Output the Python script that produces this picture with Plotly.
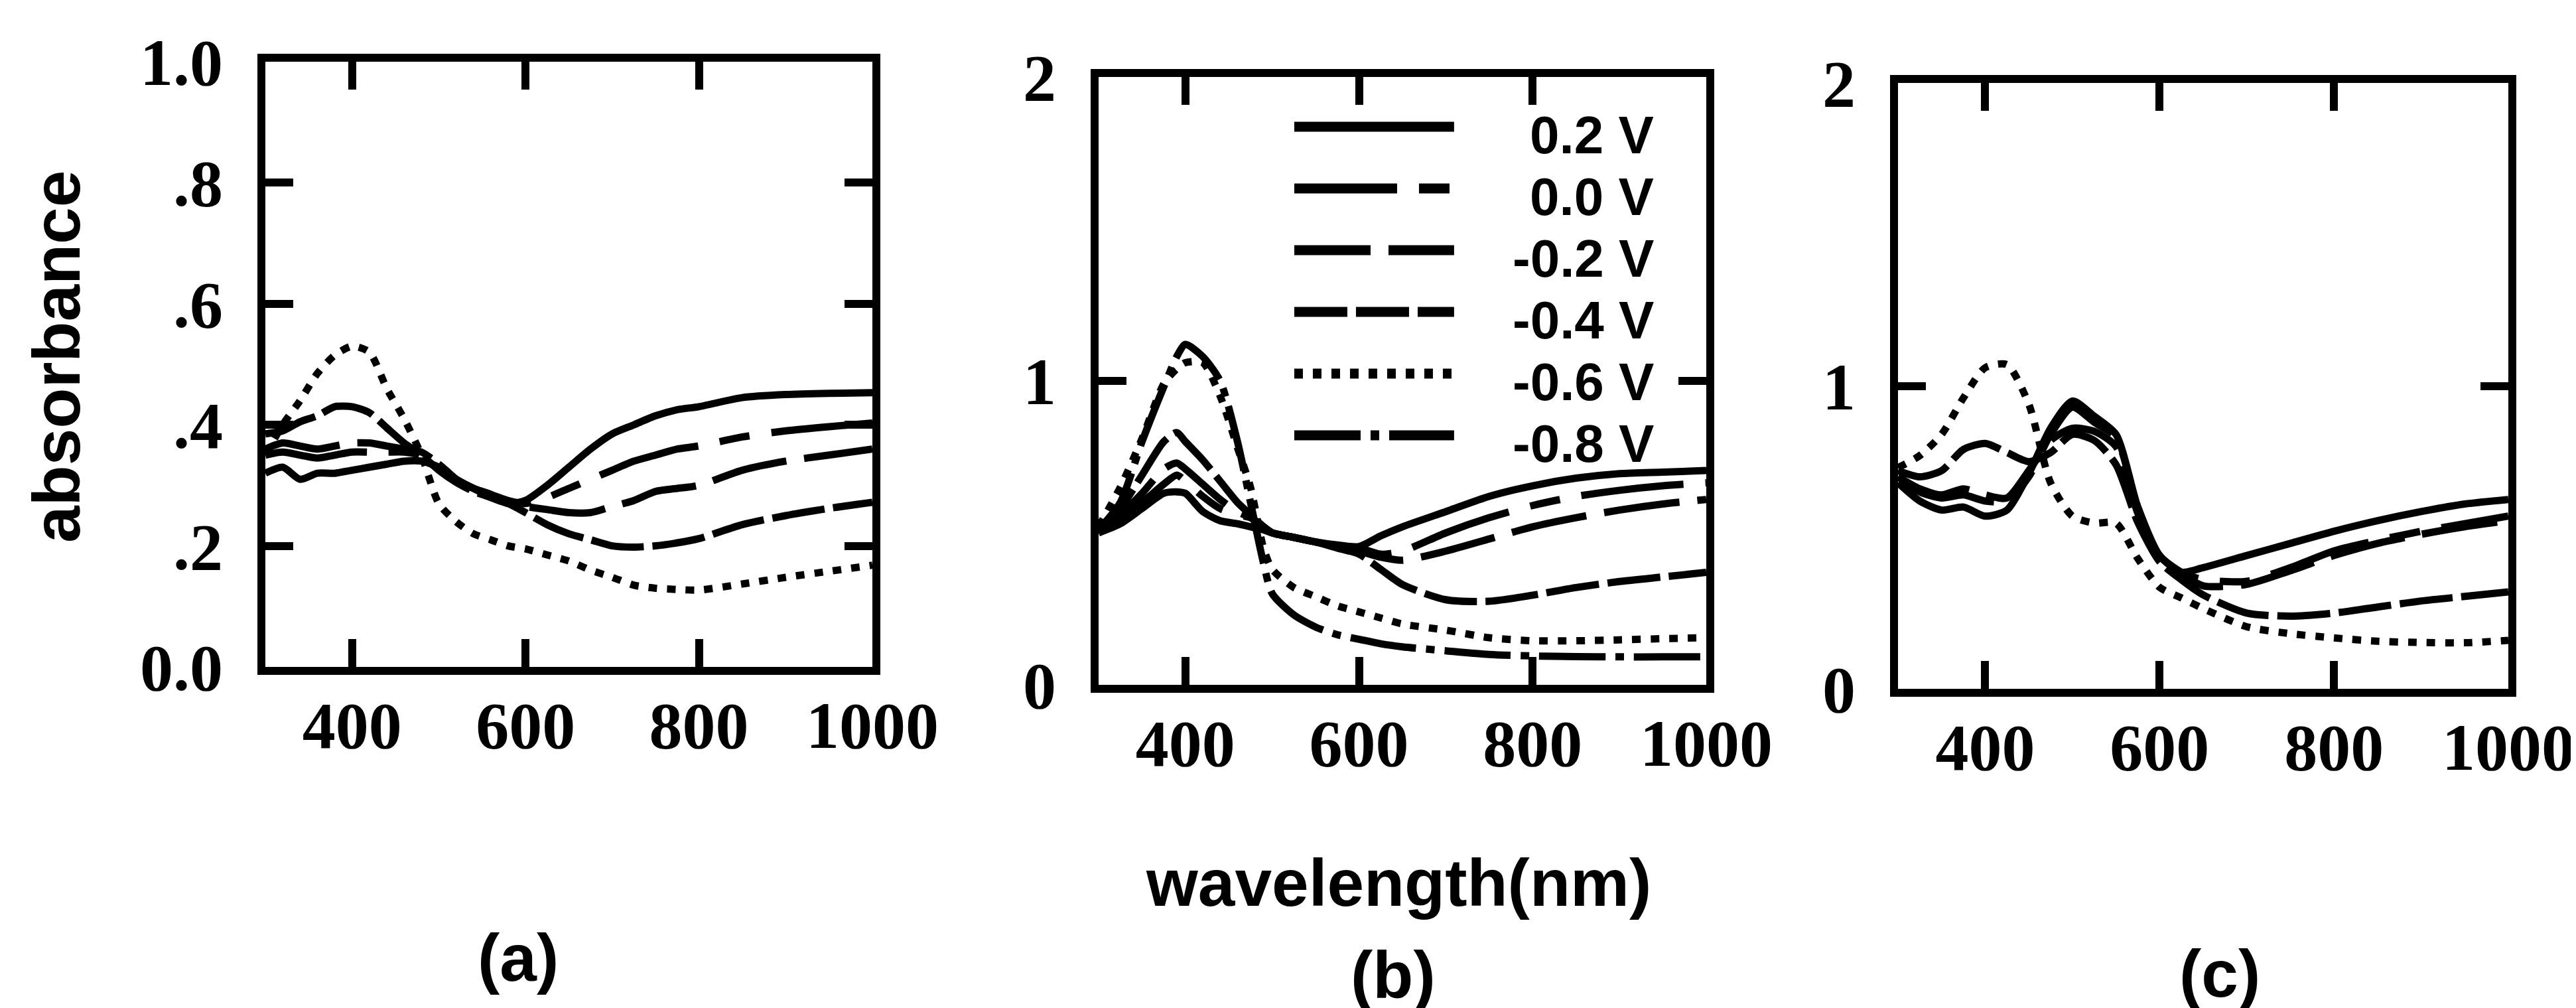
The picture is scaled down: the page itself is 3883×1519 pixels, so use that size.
import plotly.graph_objects as go

# ---------------- data ----------------
voltages = ["0.2 V", "0.0 V", "-0.2 V", "-0.4 V", "-0.6 V", "-0.8 V"]

# panel (a)
wl_a = [300, 320, 340, 360, 380, 400, 420, 440, 460, 480, 500, 520, 540, 560, 580, 600,
        625, 650, 675, 700, 725, 750, 775, 800, 850, 900, 950, 1000]
a_p02 = [0.32, 0.33, 0.31, 0.32, 0.32, 0.325, 0.33, 0.335, 0.34, 0.34, 0.33, 0.31, 0.295, 0.285,
         0.27, 0.275, 0.30, 0.33, 0.36, 0.385, 0.40, 0.415, 0.425, 0.43, 0.445, 0.45, 0.452, 0.453]
a_p00 = [0.35, 0.355, 0.35, 0.345, 0.35, 0.355, 0.355, 0.355, 0.355, 0.35, 0.335, 0.31, 0.295, 0.285,
         0.275, 0.27, 0.28, 0.295, 0.31, 0.325, 0.34, 0.35, 0.36, 0.365, 0.38, 0.39, 0.397, 0.403]
a_m02 = [0.36, 0.37, 0.365, 0.36, 0.365, 0.37, 0.37, 0.365, 0.36, 0.355, 0.335, 0.31, 0.295, 0.28,
         0.27, 0.265, 0.26, 0.255, 0.255, 0.265, 0.275, 0.29, 0.295, 0.30, 0.325, 0.34, 0.35, 0.36]
a_m04 = [0.385, 0.39, 0.405, 0.415, 0.43, 0.43, 0.42, 0.395, 0.37, 0.35, 0.325, 0.305, 0.29, 0.28,
         0.27, 0.255, 0.235, 0.22, 0.21, 0.20, 0.198, 0.20, 0.205, 0.212, 0.235, 0.25, 0.262, 0.272]
a_m06 = [0.35, 0.40, 0.44, 0.485, 0.515, 0.53, 0.52, 0.46, 0.41, 0.35, 0.27, 0.24, 0.22, 0.21,
         0.20, 0.195, 0.185, 0.175, 0.16, 0.148, 0.135, 0.13, 0.128, 0.127, 0.137, 0.148, 0.158, 0.168]

# panel (b)
wl_b = [300, 325, 350, 375, 390, 400, 420, 440, 460, 475, 490, 500, 525, 550, 575, 600,
        625, 650, 700, 750, 800, 850, 900, 950, 1000]
b_p02 = [0.50, 0.53, 0.58, 0.63, 0.635, 0.63, 0.57, 0.54, 0.53, 0.52, 0.51, 0.50, 0.485, 0.47,
         0.46, 0.455, 0.49, 0.52, 0.57, 0.62, 0.655, 0.68, 0.695, 0.70, 0.705]
b_p00 = [0.50, 0.55, 0.60, 0.66, 0.69, 0.67, 0.62, 0.58, 0.56, 0.55, 0.52, 0.50, 0.485, 0.47,
         0.455, 0.45, 0.43, 0.44, 0.50, 0.55, 0.59, 0.62, 0.64, 0.655, 0.665]
b_m02 = [0.50, 0.56, 0.63, 0.71, 0.73, 0.71, 0.66, 0.61, 0.57, 0.55, 0.52, 0.50, 0.485, 0.47,
         0.455, 0.44, 0.42, 0.41, 0.44, 0.48, 0.52, 0.55, 0.575, 0.595, 0.61]
b_m04 = [0.51, 0.58, 0.69, 0.80, 0.83, 0.80, 0.74, 0.67, 0.60, 0.56, 0.52, 0.50, 0.485, 0.47,
         0.45, 0.43, 0.38, 0.33, 0.28, 0.275, 0.295, 0.32, 0.34, 0.355, 0.37]
b_m06 = [0.52, 0.65, 0.81, 0.99, 1.04, 1.06, 1.06, 0.95, 0.78, 0.65, 0.45, 0.38, 0.32, 0.29,
         0.26, 0.24, 0.22, 0.20, 0.18, 0.155, 0.145, 0.145, 0.148, 0.152, 0.155]
b_m08 = [0.51, 0.60, 0.80, 0.98, 1.08, 1.12, 1.08, 1.00, 0.80, 0.60, 0.40, 0.30, 0.23, 0.19,
         0.165, 0.15, 0.135, 0.125, 0.112, 0.10, 0.095, 0.093, 0.092, 0.092, 0.092]

# panel (c)
wl_c = [300, 325, 350, 375, 400, 425, 450, 475, 500, 525, 550, 575, 600, 625, 650,
        700, 750, 800, 850, 900, 950, 1000]
c_p02 = [0.68, 0.62, 0.59, 0.60, 0.57, 0.59, 0.71, 0.86, 0.95, 0.90, 0.84, 0.60, 0.44, 0.385,
         0.40, 0.44, 0.48, 0.52, 0.555, 0.585, 0.61, 0.625]
c_p00 = [0.70, 0.65, 0.63, 0.64, 0.62, 0.62, 0.70, 0.84, 0.93, 0.88, 0.83, 0.60, 0.44, 0.385,
         0.36, 0.355, 0.40, 0.455, 0.49, 0.52, 0.545, 0.57]
c_m02 = [0.70, 0.66, 0.64, 0.66, 0.64, 0.63, 0.72, 0.82, 0.86, 0.85, 0.80, 0.58, 0.44, 0.38,
         0.34, 0.345, 0.39, 0.44, 0.48, 0.51, 0.535, 0.555]
c_m04 = [0.72, 0.70, 0.72, 0.79, 0.81, 0.78, 0.75, 0.78, 0.84, 0.82, 0.74, 0.55, 0.42, 0.36,
         0.31, 0.25, 0.24, 0.25, 0.27, 0.29, 0.305, 0.32]
c_m06 = [0.73, 0.77, 0.84, 0.96, 1.06, 1.07, 0.94, 0.68, 0.57, 0.547, 0.547, 0.43, 0.335, 0.30,
         0.265, 0.205, 0.182, 0.168, 0.157, 0.153, 0.152, 0.16]

x_ticks = [400, 600, 800, 1000]
a_yticks = [0, 0.2, 0.4, 0.6, 0.8, 1.0]
a_yticktext = ["0.0", ".2", ".4", ".6", ".8", "1.0"]
bc_yticks = [0, 1, 2]
bc_yticktext = ["0", "1", "2"]
panel_labels = ["(a)", "(b)", "(c)"]

# ---------------- styling ----------------
W, H = 3883, 1519
DASH = {
    "0.2 V": "solid",
    "0.0 V": "155px,33px,46px,33px",
    "-0.2 V": "115px,27px",
    "-0.4 V": "80px,13px",
    "-0.6 V": "13px,15px",
    "-0.8 V": "100px,15px,13px,15px",
}
LW = 11
LEG_LW = 15
SERIF = "Liberation Serif, Times New Roman, serif"
SANS = "Liberation Sans, Arial, sans-serif"

# plot boxes in pixels (left, right, top, bottom)
boxes = [(392, 1307, 85, 997), (1648, 2564, 108, 1024), (2853, 3773, 117, 1030)]

fig = go.Figure()

panels = [
    (wl_a, [a_p02, a_p00, a_m02, a_m04, a_m06], voltages[:5]),
    (wl_b, [b_p02, b_p00, b_m02, b_m04, b_m06, b_m08], voltages),
    (wl_c, [c_p02, c_p00, c_m02, c_m04, c_m06], voltages[:5]),
]

for i, (wl, series, names) in enumerate(panels):
    sfx = "" if i == 0 else str(i + 1)
    for ys, nm in zip(series, names):
        fig.add_trace(go.Scatter(
            x=wl, y=ys, mode="lines", name=nm, showlegend=False,
            line=dict(color="black", width=LW, dash=DASH[nm], shape="spline", smoothing=0.7),
            xaxis="x" + sfx, yaxis="y" + sfx,
        ))

layout = dict(
    template="none",
    width=W, height=H, margin=dict(l=0, r=0, t=0, b=0, autoexpand=False),
    paper_bgcolor="white", plot_bgcolor="white", showlegend=False,
)

for i, (l, r, t, b) in enumerate(boxes):
    sfx = "" if i == 0 else str(i + 1)
    common = dict(
        showline=True, linewidth=12, linecolor="black", mirror="ticks",
        ticks="inside", ticklen=42, tickwidth=12, tickcolor="black",
        showgrid=False, zeroline=False, fixedrange=True, automargin=False,
        tickfont=dict(family=SERIF, size=100, color="black", weight="bold"),
    )
    layout["xaxis" + sfx] = dict(
        common, domain=[l / W, r / W], range=[300, 1000], anchor="y" + sfx,
        tickvals=x_ticks, ticklabelstandoff=-10,
    )
    if i == 0:
        yt, ytt, yr = a_yticks, a_yticktext, [0, 1]
    else:
        yt, ytt, yr = bc_yticks, bc_yticktext, [0, 2]
    layout["yaxis" + sfx] = dict(
        common, domain=[1 - b / H, 1 - t / H], range=yr, anchor="x" + sfx,
        tickvals=yt, ticktext=ytt, ticklabelstandoff=32,
    )

fig.update_layout(**layout)

annotations = [
    dict(text="absorbance", x=77 / W, y=1 - 530 / H, textangle=-90,
         font=dict(family=SANS, size=100, color="black", weight="bold")),
    dict(text="wavelength(nm)", x=2100 / W, y=1 - 1322 / H,
         font=dict(family=SANS, size=100, color="black", weight="bold")),
]
for lbl, (px, py) in zip(panel_labels, [(773, 1435), (2092, 1461), (3338, 1459)]):
    annotations.append(dict(text=lbl, x=px / W, y=1 - py / H,
                            font=dict(family=SANS, size=100, color="black", weight="bold")))
for a in annotations:
    a.update(xref="paper", yref="paper", showarrow=False, xanchor="center", yanchor="middle")

# legend drawn inside panel (b): rows in pixel rows of the page
leg_line_px = [183, 276, 369, 462, 555, 648]
leg_text_px = [195, 288, 381, 474, 567, 660]
pb_top, pb_bot = boxes[1][2], boxes[1][3]
shapes = []
for nm, ly, ty in zip(voltages, leg_line_px, leg_text_px):
    yl = (pb_bot - ly) / (pb_bot - pb_top)
    yt_ = (pb_bot - ty) / (pb_bot - pb_top)
    shapes.append(dict(type="line", xref="x2 domain", yref="y2 domain",
                       x0=0.322, x1=0.585, y0=yl, y1=yl,
                       line=dict(color="black", width=LEG_LW, dash=DASH[nm])))
    annotations.append(dict(text=nm, xref="x2 domain", yref="y2 domain", x=0.915, y=yt_,
                            xanchor="right", yanchor="middle", showarrow=False, borderpad=0,
                            font=dict(family=SANS, size=80, color="black", weight="bold")))

fig.update_layout(annotations=annotations, shapes=shapes)
fig.write_html("out.html")
